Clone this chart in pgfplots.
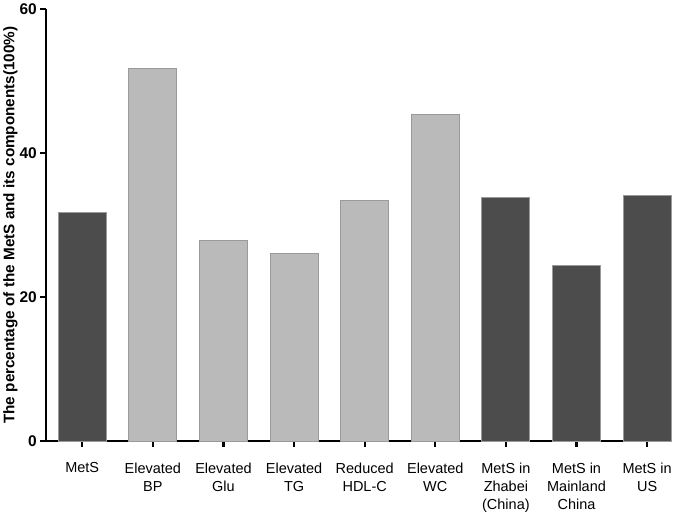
\documentclass[border=0pt]{standalone}
\usepackage{pgfplots}
\pgfplotsset{compat=1.18}
\usepackage{fontspec}
\setmainfont{Liberation Sans}
\definecolor{darkbar}{HTML}{4C4C4C}
\definecolor{lightbar}{HTML}{BABABA}
\definecolor{edgegray}{HTML}{9A9A9A}
\begin{document}
\begin{tikzpicture}[x=1pt,y=1pt]
\begin{axis}[
  scale only axis,
  width=625pt, height=433pt,
  xmin=-0.51, xmax=8.33,
  ymin=0, ymax=60,
  axis lines*=left,
  axis line style={line width=2.2pt, black},
  ytick={0,20,40,60},
  xtick={0,...,8},
  xticklabels={MetS, Elevated\\BP, Elevated\\Glu, Elevated\\TG, Reduced\\HDL-C, Elevated\\WC, MetS in\\Zhabei\\(China), MetS in\\Mainland\\China, MetS in\\US},
  x tick label style={align=center, font=\fontsize{14.5}{18}\selectfont, yshift=-12pt},
  y tick label style={font=\bfseries\fontsize{15.5}{17}\selectfont},
  /pgf/number format/assume math mode=true,
  tick style={black, line width=2.2pt},
  tick align=outside,
  major tick length=6pt,
  xtick pos=bottom, ytick pos=left,
  ylabel={\bfseries The percentage of the MetS and its components(100\%)},
  ylabel style={font=\fontsize{15.3}{17}\selectfont, yshift=-5pt},
  ybar, bar width=0.68, bar shift=0pt,
  clip=false,
]
\addplot[fill=darkbar, draw=edgegray, line width=1pt] coordinates {(0,31.7) (6,33.8) (7,24.4) (8,34.1)};
\addplot[fill=lightbar, draw=edgegray, line width=1pt] coordinates {(1,51.7) (2,27.9) (3,26.0) (4,33.4) (5,45.3)};
\end{axis}
\end{tikzpicture}
\end{document}
